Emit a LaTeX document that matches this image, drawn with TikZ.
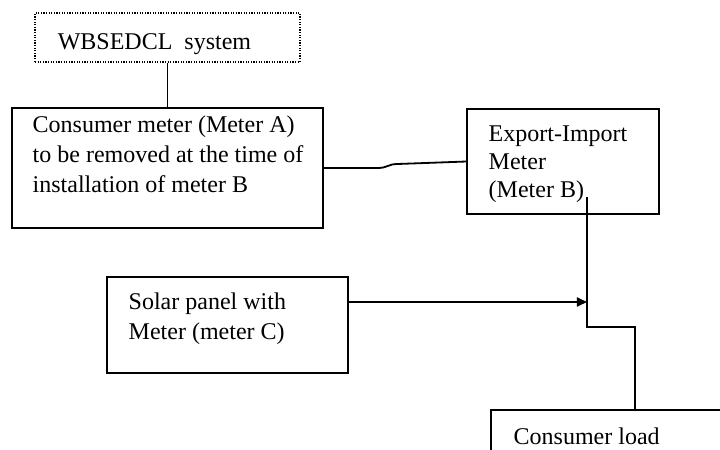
\documentclass[tikz,border=0pt]{standalone}
\usepackage{fontspec}
\setmainfont{Liberation Serif}
\usetikzlibrary{arrows.meta,positioning}

\tikzset{
  box/.style={draw, line width=0.7pt, inner sep=0pt},
  dotbox/.style={draw, line width=0.6pt, dash pattern=on 0.6pt off 0.7pt, inner sep=0pt},
  txt/.style={inner sep=0pt, align=left, anchor=base west, font=\fontsize{12}{15}\selectfont},
  wire/.style={line width=0.9pt}
}

\begin{document}
\begin{tikzpicture}[x=0.5pt, y=-0.5pt, >={Triangle[length=5pt,width=4.5pt]}]
    \path [use as bounding box, clip] (0,0) rectangle (720,450);

    % Boxes {wbsedcl, meterA, meterB, meterC, load}
    \node [dotbox, minimum width=132.5pt, minimum height=24.5pt] (wbsedcl) at (167.5,37.5) {};
    \node [box, minimum width=155.5pt, minimum height=60pt]     (meterA)  at (167.5,168)  {};
    \node [box, minimum width=96pt,    minimum height=52.5pt]   (meterB)  at (563,161.5)  {};
    \node [box, minimum width=120.5pt, minimum height=48pt]     (meterC)  at (227.5,325)  {};
    \node [box, minimum width=144pt,   minimum height=50pt]     (load)    at (635,460)    {};

    % Texts (anchored at the baseline of the last line)
    \node [txt] (wbsedclText) at ([shift={(23,37)}]wbsedcl.north west) {WBSEDCL\ \ system};
    \node [txt] (meterAText)  at ([shift={(21,85)}]meterA.north west)  {Consumer meter (Meter A)\\to be removed at the time of\\installation of meter B};
    \node [txt, font=\fontsize{12}{14}\selectfont] (meterBText) at ([shift={(22,89)}]meterB.north west) {Export-Import\\Meter\\(Meter B)};
    \node [txt] (meterCText)  at ([shift={(22,63)}]meterC.north west)  {Solar panel with\\Meter (meter C)};
    \node [txt] (loadText)    at ([shift={(23,35)}]load.north west)    {Consumer load};

    % Paths
    \coordinate (tap)  at (587,197);
    \coordinate (feed) at (587,302);
    \draw [wire] (wbsedcl) -- (meterA);
    \draw [wire] (meterA.east) -- ++(54,0) .. controls +(10,0) and +(-10,0) .. ++(20,-4) -- (meterB.west);
    \draw [wire] (tap) -- ++(0,130) -| (load.north);
    \draw [wire, ->] (meterC.east |- feed) -- (feed);

\end{tikzpicture}
\end{document}
